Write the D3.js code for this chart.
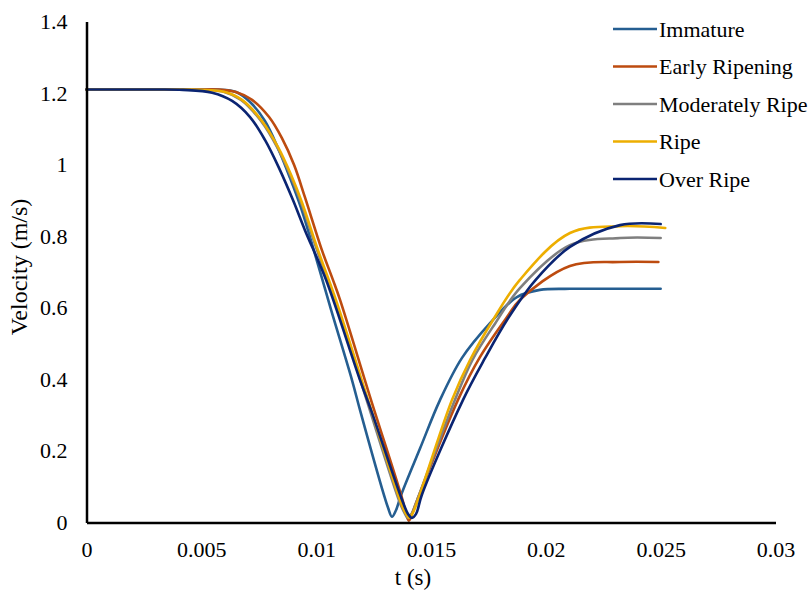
<!DOCTYPE html>
<html><head><meta charset="utf-8">
<script src="https://cdn.jsdelivr.net/npm/d3@7"></script>
<style>body{margin:0;background:#fff}</style></head>
<body><svg id="c" width="811" height="591"></svg>
<script>
const seriesNames = ["Immature", "Early Ripening", "Moderately Ripe", "Ripe", "Over Ripe"];
const seriesColors = ["#255E91", "#BD4B0F", "#7F7F7F", "#EDAE00", "#0A2472"];
const xTicks = [0, 0.005, 0.01, 0.015, 0.02, 0.025, 0.03];
const xTickLabels = ["0", "0.005", "0.01", "0.015", "0.02", "0.025", "0.03"];
const yTicks = [0, 0.2, 0.4, 0.6, 0.8, 1, 1.2, 1.4];
const yTickLabels = ["0", "0.2", "0.4", "0.6", "0.8", "1", "1.2", "1.4"];

const immature = [[0,1.21],[0.0015,1.21],[0.003,1.21],[0.0045,1.21],[0.0057,1.21],[0.00651,1.203],[0.00712,1.175],[0.00777,1.122],[0.00834,1.046],[0.00886,0.963],[0.00934,0.879],[0.00977,0.789],[0.01021,0.692],[0.01065,0.594],[0.01156,0.398],[0.01191,0.314],[0.01295,0.077],[0.01313,0.041],[0.0133,0.016],[0.01348,0.035],[0.0137,0.077],[0.01453,0.208],[0.01539,0.342],[0.01635,0.46],[0.01757,0.557],[0.01874,0.63],[0.01974,0.65],[0.02105,0.653],[0.023,0.653],[0.025,0.653]];
const earlyRipening = [[0,1.21],[0.0015,1.21],[0.003,1.21],[0.0045,1.21],[0.0057,1.21],[0.0065,1.203],[0.00721,1.181],[0.00795,1.133],[0.00851,1.074],[0.00904,0.999],[0.00951,0.909],[0.01025,0.761],[0.01073,0.678],[0.01104,0.622],[0.01239,0.342],[0.01376,0.063],[0.01391,0.024],[0.01404,0.005],[0.01417,0.024],[0.0144,0.063],[0.01617,0.342],[0.01713,0.462],[0.01831,0.574],[0.01887,0.622],[0.02105,0.717],[0.02323,0.728],[0.0249,0.728]];
const moderatelyRipe = [[0,1.21],[0.0015,1.21],[0.003,1.21],[0.0042,1.21],[0.0051,1.209],[0.006,1.203],[0.00673,1.181],[0.0076,1.122],[0.0083,1.049],[0.00887,0.971],[0.00935,0.893],[0.01004,0.761],[0.01082,0.622],[0.0122,0.342],[0.0136,0.063],[0.01383,0.029],[0.014,0.013],[0.01418,0.027],[0.0144,0.063],[0.01604,0.342],[0.0168,0.454],[0.0178,0.557],[0.01887,0.655],[0.02105,0.775],[0.02323,0.795],[0.025,0.795]];
const ripe = [[0,1.21],[0.0015,1.21],[0.003,1.21],[0.004,1.21],[0.0049,1.209],[0.00603,1.203],[0.00677,1.181],[0.00764,1.122],[0.00834,1.049],[0.00891,0.971],[0.00939,0.893],[0.01008,0.761],[0.01086,0.622],[0.01226,0.342],[0.01365,0.063],[0.01387,0.029],[0.01404,0.013],[0.01421,0.027],[0.01443,0.063],[0.01591,0.342],[0.0167,0.454],[0.0177,0.566],[0.01887,0.678],[0.02105,0.809],[0.02323,0.828],[0.0252,0.823]];
const overRipe = [[0,1.21],[0.0015,1.21],[0.003,1.21],[0.0042,1.209],[0.00547,1.201],[0.00634,1.178],[0.00712,1.133],[0.00777,1.069],[0.00838,0.991],[0.00899,0.901],[0.00951,0.817],[0.01043,0.678],[0.01191,0.398],[0.01239,0.314],[0.01374,0.063],[0.014,0.024],[0.01417,0.013],[0.01435,0.024],[0.0146,0.077],[0.01639,0.342],[0.01735,0.459],[0.01835,0.57],[0.01953,0.676],[0.02105,0.77],[0.02323,0.831],[0.025,0.834]];
const seriesData = [immature, earlyRipening, moderatelyRipe, ripe, overRipe];

const svg = d3.select("#c");
const font = "Liberation Serif, serif";
const x = d3.scaleLinear().domain([0, 0.03]).range([86.5, 775.5]);
const y = d3.scaleLinear().domain([0, 1.4]).range([522.5, 21.5]);

const line = d3.line().x(d => x(d[0])).y(d => y(d[1])).curve(d3.curveCatmullRom.alpha(0.5));
seriesData.forEach((s, i) => {
  svg.append("path").datum(s).attr("d", line)
    .attr("fill", "none").attr("stroke", seriesColors[i]).attr("stroke-width", 2.6)
    .attr("stroke-linejoin", "round").attr("stroke-linecap", "round");
});

const xAxis = svg.append("g").attr("transform", "translate(0,522.5)")
  .call(d3.axisBottom(x).tickValues(xTicks).tickFormat((d, i) => xTickLabels[i]).tickSize(0).tickSizeOuter(0).tickPadding(19));
const yAxis = svg.append("g").attr("transform", "translate(86.5,0)")
  .call(d3.axisLeft(y).tickValues(yTicks).tickFormat((d, i) => yTickLabels[i]).tickSize(0).tickSizeOuter(0).tickPadding(19));
[xAxis, yAxis].forEach(a => {
  a.select(".domain").attr("stroke", "#000").attr("stroke-width", 2.5);
  a.selectAll("text").attr("font-family", font).attr("font-size", 22).attr("fill", "#000");
});

svg.append("text").attr("x", 413).attr("y", 585).attr("text-anchor", "middle")
  .attr("font-family", font).attr("font-size", 23).text("t (s)");
svg.append("text").attr("transform", "translate(27,267) rotate(-90)").attr("text-anchor", "middle")
  .attr("font-family", font).attr("font-size", 24).text("Velocity (m/s)");

const legend = svg.append("g");
seriesNames.forEach((n, i) => {
  const ly = 29 + i * 37.5;
  legend.append("line").attr("x1", 613).attr("x2", 657).attr("y1", ly).attr("y2", ly)
    .attr("stroke", seriesColors[i]).attr("stroke-width", 2.6);
  legend.append("text").attr("x", 659).attr("y", ly).attr("dominant-baseline", "central")
    .attr("font-family", font).attr("font-size", 22).text(n);
});
</script></body></html>
